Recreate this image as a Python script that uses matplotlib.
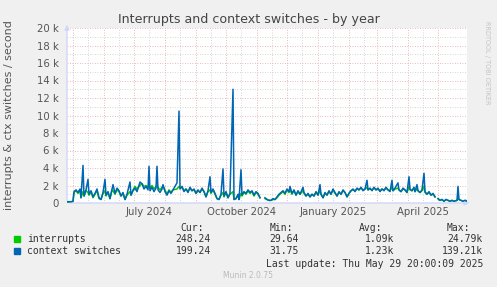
import matplotlib
matplotlib.use("Agg")
import matplotlib.pyplot as plt
import numpy as np

# Munin "by year" graph: 400 days ending at the last update
END = np.datetime64("2025-05-29T20:00")
START = END - np.timedelta64(400, "D")

# day offsets from START, values in thousands per second
days = [
    0, 4, 6, 7, 9, 11, 13, 14, 16, 17,
    19, 21, 22, 24, 26, 28, 30, 32, 34, 36,
    38, 39, 41, 43, 45, 46, 48, 50, 52, 54,
    56, 58, 60, 63, 64, 66, 68, 70, 73, 75,
    77, 79, 81, 82, 83, 85, 87, 89, 90, 91,
    93, 95, 96, 98, 100, 102, 104, 106, 110, 112,
    113, 115, 117, 119, 121, 123, 125, 127, 129, 131,
    133, 135, 137, 139, 141, 143, 144, 146, 148, 150,
    152, 154, 156, 157, 159, 161, 163, 166, 167, 169,
    171, 172, 174, 175, 177, 179, 181, 183, 185, 187,
    189, 191, 193, 195, 198, 200, 202, 204, 206, 208,
    210, 212, 214, 216, 218, 220, 222, 223, 225, 227,
    229, 231, 233, 236, 237, 239, 241, 243, 245, 247,
    249, 251, 253, 254, 256, 258, 260, 262, 264, 266,
    268, 270, 272, 274, 276, 278, 280, 282, 284, 286,
    288, 290, 292, 294, 296, 298, 300, 301, 303, 305,
    307, 309, 311, 313, 315, 317, 319, 321, 323, 325,
    326, 328, 331, 332, 334, 336, 338, 340, 342, 343,
    345, 347, 348, 350, 351, 353, 355, 357, 358, 360,
    362, 364, 366, 368, 369, 371, 373, 375, 377, 379,
    381, 383, 385, 387, 390, 391, 392, 394, 396, 398,
    400,
]

nan = float("nan")
ctx_switches = [
    0.15, 0.15, 0.2, 1.3, 1.5, 1.2, 1.6, 0.6, 4.3, 0.8,
    1.5, 2.7, 1.0, 1.4, 0.7, 1.1, 1.6, 0.6, 0.4, 1.2,
    2.7, 0.9, 1.3, 0.5, 1.6, 2.1, 1.1, 1.7, 1.4, 0.8,
    1.2, 0.4, 1.0, 2.4, 0.9, 1.4, 1.7, 1.3, 2.4, 2.2,
    1.6, 1.9, 1.5, 4.2, 1.4, 1.8, 1.3, 1.7, 4.2, 1.5,
    1.2, 1.6, 2.1, 1.3, 0.9, 1.4, 1.1, 1.5, 2.3, 10.5,
    1.6, 1.9, 1.3, 1.6, 1.2, 1.8, 1.4, 1.6, 1.1, 1.5,
    1.2, 1.7, 1.3, 0.7, 1.4, 3.0, 1.2, 1.6, 1.1, 0.5,
    0.4, 1.0, 3.9, 0.8, 1.3, 0.6, 1.1, 13.0, 0.4, 0.5,
    1.0, 0.4, 3.8, 0.9, 1.3, 1.1, 1.5, 1.2, 1.4, 0.9,
    1.3, 1.1, 0.6, nan, 0.6, 0.4, 0.3, 0.3, 0.5, 0.4,
    0.7, 1.0, 1.2, 1.4, 1.1, 1.6, 1.3, 1.9, 1.1, 1.5,
    0.9, 1.4, 1.0, 1.8, 1.2, 0.8, 1.1, 0.7, 1.0, 0.8,
    1.3, 0.9, 2.1, 1.0, 0.6, 1.2, 0.9, 1.4, 1.0, 1.6,
    1.2, 0.8, 1.3, 1.0, 1.5, 1.2, 0.7, 1.1, 1.4, 1.6,
    1.3, 1.7, 1.5, 1.8, 1.4, 1.6, 2.6, 1.5, 1.7, 1.4,
    1.8, 1.5, 1.7, 1.3, 1.6, 1.4, 1.8, 1.5, 1.3, 2.6,
    1.4, 1.7, 2.3, 1.5, 1.3, 1.7, 1.5, 1.2, 3.0, 1.6,
    1.4, 1.8, 1.3, 2.1, 1.4, 1.2, 1.5, 3.4, 1.3, 1.0,
    1.3, 0.9, 1.1, 0.7, nan, 0.5, 0.3, 0.4, 0.2, 0.4,
    0.3, 0.2, 0.3, 0.2, 0.3, 1.9, 0.4, 0.3, 0.2, 0.3,
    0.2,
]
interrupts = [
    0.1, 0.1, 0.15, 1.2, 1.4, 1.1, 1.5, 0.6, 1.3, 0.8,
    1.4, 1.2, 0.9, 1.3, 0.6, 1.0, 1.4, 0.5, 0.4, 1.1,
    1.4, 0.8, 1.2, 0.5, 1.5, 1.4, 1.0, 1.5, 1.3, 0.8,
    1.1, 0.4, 0.9, 1.3, 0.9, 1.5, 1.9, 1.6, 2.0, 2.2,
    1.9, 2.0, 1.8, 2.1, 1.7, 2.0, 1.6, 1.9, 2.0, 1.8,
    1.5, 1.8, 1.9, 1.5, 1.0, 1.5, 1.2, 1.5, 1.6, 1.9,
    1.7, 1.8, 1.4, 1.6, 1.3, 1.7, 1.4, 1.5, 1.1, 1.4,
    1.2, 1.6, 1.3, 0.7, 1.3, 1.5, 1.1, 1.5, 1.0, 0.5,
    0.4, 0.9, 1.2, 0.7, 1.2, 0.6, 1.0, 1.3, 0.4, 0.5,
    0.9, 0.4, 1.1, 0.8, 1.2, 1.0, 1.4, 1.1, 1.3, 0.8,
    1.2, 1.0, 0.6, nan, 0.5, 0.4, 0.3, 0.3, 0.4, 0.4,
    0.6, 0.9, 1.1, 1.3, 1.0, 1.5, 1.2, 1.5, 1.0, 1.4,
    0.9, 1.3, 1.0, 1.4, 1.1, 0.8, 1.0, 0.7, 1.0, 0.8,
    1.2, 0.9, 1.4, 1.0, 0.6, 1.1, 0.9, 1.3, 1.0, 1.5,
    1.1, 0.8, 1.2, 1.0, 1.4, 1.2, 0.7, 1.1, 1.4, 1.5,
    1.4, 1.6, 1.5, 1.7, 1.5, 1.6, 1.8, 1.5, 1.6, 1.5,
    1.7, 1.5, 1.6, 1.4, 1.6, 1.5, 1.7, 1.5, 1.4, 1.8,
    1.4, 1.6, 1.7, 1.5, 1.3, 1.6, 1.5, 1.2, 1.9, 1.5,
    1.4, 1.7, 1.3, 1.6, 1.4, 1.2, 1.4, 1.9, 1.2, 1.0,
    1.2, 0.9, 1.0, 0.7, nan, 0.5, 0.3, 0.4, 0.2, 0.4,
    0.3, 0.2, 0.3, 0.2, 0.3, 0.6, 0.4, 0.3, 0.2, 0.3,
    0.25,
]

series_names = ["interrupts", "context switches"]
series_colors = ["#00CC00", "#0066B3"]
stat_cur = ["248.24", "199.24"]
stat_min = ["29.64", "31.75"]
stat_avg = ["1.09k", "1.23k"]
stat_max = ["24.79k", "139.21k"]
month_labels = ["July 2024", "October 2024", "January 2025", "April 2025"]

W, H = 497, 287
fig = plt.figure(figsize=(W / 100, H / 100), dpi=100, facecolor="#F0F0F0")
# plot area: 400x175 px, left edge at x=67, zero line at y=203
ax = fig.add_axes([67 / W, (H - 203) / H, 400 / W, 175 / H], facecolor="white")

ax.plot(days, interrupts, color=series_colors[0], lw=1.1, zorder=3)
ax.plot(days, ctx_switches, color=series_colors[1], lw=1.1, zorder=4)

ax.set_xlim(0, 400)
ax.set_ylim(0, 20)

# grid: months (major, red) and mid-month (minor, grey)
months = np.arange("2024-05", "2025-06", dtype="datetime64[M]").astype("datetime64[m]")
month_pos = (months - START) / np.timedelta64(1, "D")
mid_pos = month_pos[:-1] + 15
grid_kw = dict(lw=0.6, linestyle=(0, (1, 2)), zorder=1)
for x in mid_pos:
    ax.axvline(x, color="#C8C8C8", **grid_kw)
for y in np.arange(1, 20, 2):
    ax.axhline(y, color="#C8C8C8", **grid_kw)
for x in month_pos:
    if 0 < x < 400:
        ax.axvline(x, color="#E6A0A0", **grid_kw)
for y in np.arange(2, 21, 2):
    ax.axhline(y, color="#E6A0A0", **grid_kw)

for s in ax.spines.values():
    s.set_visible(False)
ax.tick_params(length=0, colors="#555555", labelsize=7.3, pad=6)
ax.set_yticks(np.arange(0, 21, 2))
ax.set_yticklabels(["0"] + [f"{v} k" for v in range(2, 21, 2)])

label_months = [np.datetime64("2024-07-16"), np.datetime64("2024-10-16"),
                np.datetime64("2025-01-16"), np.datetime64("2025-04-16")]
label_pos = [(np.datetime64(m, "m") - START) / np.timedelta64(1, "D") for m in label_months]
ax.set_xticks(label_pos)
ax.set_xticklabels(month_labels)
ax.tick_params(axis="x", pad=3)

# axes with arrows
axis_col = "#CFD6F8"
ax.annotate("", xy=(0, 1.035), xytext=(0, 0), xycoords="axes fraction",
            arrowprops=dict(arrowstyle="-|>", color=axis_col, lw=1, mutation_scale=7),
            annotation_clip=False)
ax.annotate("", xy=(1.013, 0), xytext=(0, 0), xycoords="axes fraction",
            arrowprops=dict(arrowstyle="-|>", color=axis_col, lw=1, mutation_scale=7),
            annotation_clip=False)

fig.text(248.5 / W, 1 - 19 / H, "Interrupts and context switches - by year",
         ha="center", va="center", fontsize=9.1, color="#444444")
fig.text(9 / W, 1 - 115 / H, "interrupts & ctx switches / second", rotation=90,
         ha="center", va="center", fontsize=8, color="#555555")
fig.text(487 / W, 1 - 21 / H, "RRDTOOL / TOBI OETIKER", rotation=270,
         ha="center", va="top", fontsize=4.7, color="#C4C4C4")

# legend block
mono = dict(family="DejaVu Sans Mono", fontsize=7, color="#333333", va="center")
def px(x, y):
    return x / W, 1 - y / H

for txt, xr in zip(["Cur:", "Min:", "Avg:", "Max:"], [204, 293, 382, 470]):
    fig.text(*px(xr, 228), txt, ha="right", **mono)
for i, yy in enumerate([239, 251]):
    fig.patches.append(plt.Rectangle(px(14, yy + 3), 6 / W, 6 / H, transform=fig.transFigure,
                                     color=series_colors[i]))
    fig.text(*px(27, yy), series_names[i], ha="left", **mono)
    fig.text(*px(211, yy), stat_cur[i], ha="right", **mono)
    fig.text(*px(299, yy), stat_min[i], ha="right", **mono)
    fig.text(*px(394, yy), stat_avg[i], ha="right", **mono)
    fig.text(*px(483, yy), stat_max[i], ha="right", **mono)
fig.text(*px(483, 264), "Last update: Thu May 29 20:00:09 2025", ha="right", **mono)
fig.text(*px(248, 276), "Munin 2.0.75", ha="center", va="center", fontsize=5.5, color="#BBBBBB")

fig.savefig("out.png", dpi=100, facecolor=fig.get_facecolor())
